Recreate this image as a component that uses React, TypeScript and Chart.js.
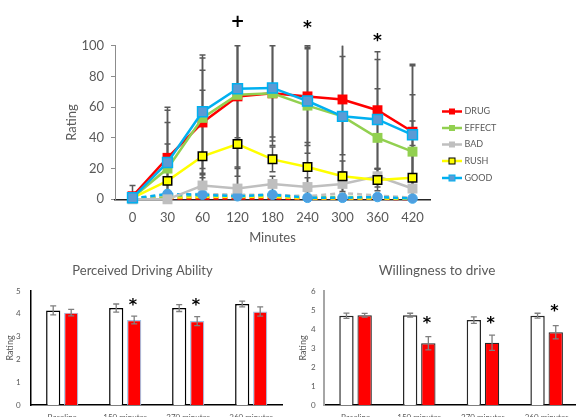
import React, { useEffect, useRef } from 'react';
import { Chart, registerables } from 'chart.js';
Chart.register(...registerables);
Chart.defaults.font.family = 'Lato';

// ---------- Top chart data ----------
const minutes = ['0', '30', '60', '120', '180', '240', '300', '360', '420'];
const drug = [2, 27, 50, 67, 69, 67, 65, 58, 44];
const effect = [1, 20, 53, 68, 69, 61, 54, 40, 31];
const bad = [0, 0, 9, 7, 10, 8, 10, 15, 7];
const rush = [1, 12, 28, 36, 26, 21, 15, 12.5, 14];
const good = [1, 24, 57, 72, 72.5, 64, 54, 52, 42];
const drugSd = [7, 33, 34, 47, 31, 32, 36, 38, 44];
const effectSd = [3, 30, 39, 53, 34, 39, 50, 32, 37];
const badSd = [2, 3, 8, 14, 5, 6, 8, 5, 28];
const rushSd = [3, 24, 43, 64, 8, 16, 10, 7, 37];
const goodSd = [3, 34, 37, 32, 32, 34, 39, 39, 45];
// placebo (dashed) series
const drugP = [0.3, 0.5, 0.5, 0.5, 0.5, 0.3, 0.3, 0.3, 0.2];
const effectP = [0.5, 2, 2.5, 2.5, 2.5, 1.5, 1.5, 1.5, 0.5];
const badP = [0.5, 3, 3.5, 3, 3, 2, 4, 2.5, 1];
const rushP = [0.5, 1, 1.5, 1.5, 1.5, 0.5, 0.5, 0.5, 0.3];
const goodP = [0.5, 3.5, 3, 2, 3, 1, 1, 1.5, 0.5];
const topMarks = [{ idx: 3, text: '+' }, { idx: 5, text: '*' }, { idx: 7, text: '*' }];

// ---------- Bottom charts data ----------
const timepoints = ['Baseline', '150 minutes', '270 minutes', '360 minutes'];
const abilityPlacebo = [4.15, 4.25, 4.25, 4.43];
const abilityPlaceboErr = [0.2, 0.18, 0.15, 0.13];
const abilityDrug = [4.05, 3.73, 3.68, 4.1];
const abilityDrugErr = [0.14, 0.17, 0.2, 0.2];
const abilityStars = [1, 2];
const willPlacebo = [4.7, 4.73, 4.47, 4.7];
const willPlaceboErr = [0.14, 0.1, 0.17, 0.13];
const willDrug = [4.72, 3.25, 3.28, 3.83];
const willDrugErr = [0.1, 0.35, 0.4, 0.35];
const willStars = [1, 2, 3];

const GREY_TEXT = '#595959';

function drawGlyphCentered(ctx: CanvasRenderingContext2D, text: string, cx: number, cy: number, font: string, color: string) {
  ctx.save();
  ctx.font = font;
  ctx.fillStyle = color;
  ctx.textAlign = 'left';
  ctx.textBaseline = 'alphabetic';
  const m = ctx.measureText(text);
  const w = m.actualBoundingBoxRight + m.actualBoundingBoxLeft;
  const x = cx - w / 2 + m.actualBoundingBoxLeft;
  const y = cy + (m.actualBoundingBoxAscent - m.actualBoundingBoxDescent) / 2;
  ctx.fillText(text, x, y);
  ctx.restore();
}

function drawText(ctx: CanvasRenderingContext2D, text: string, x: number, y: number, font: string, color: string, rotate = false) {
  ctx.save();
  ctx.font = font;
  ctx.fillStyle = color;
  ctx.textAlign = 'center';
  ctx.textBaseline = 'middle';
  ctx.translate(x, y);
  if (rotate) ctx.rotate(-Math.PI / 2);
  ctx.fillText(text, 0, 0);
  ctx.restore();
}

export default function App() {
  const topRef = useRef<HTMLCanvasElement>(null);
  const leftRef = useRef<HTMLCanvasElement>(null);
  const rightRef = useRef<HTMLCanvasElement>(null);

  useEffect(() => {
    const solid = [
      { label: 'DRUG', data: drug, sd: drugSd, line: '#FF0000', fill: '#FF0000', border: '#FF0000', bw: 0, order: 5 },
      { label: 'EFFECT', data: effect, sd: effectSd, line: '#92D050', fill: '#92D050', border: '#92D050', bw: 0, order: 4 },
      { label: 'BAD', data: bad, sd: badSd, line: '#BFBFBF', fill: '#BFBFBF', border: '#BFBFBF', bw: 0, order: 3 },
      { label: 'RUSH', data: rush, sd: rushSd, line: '#FFFF00', fill: '#FFFF00', border: '#000000', bw: 1.5, order: 2 },
      { label: 'GOOD', data: good, sd: goodSd, line: '#00B0F0', fill: '#5B9BD5', border: '#00B0F0', bw: 1.5, order: 1 },
    ];
    const dashed = [
      { data: drugP, color: '#FF0000', order: 10 },
      { data: rushP, color: '#FFFF00', order: 9 },
      { data: effectP, color: '#92D050', order: 8 },
      { data: badP, color: '#BFBFBF', order: 7 },
    ];
    const datasets: any[] = solid.map((s) => ({
      label: s.label,
      data: s.data,
      borderColor: s.line,
      backgroundColor: s.fill,
      borderWidth: 2.5,
      pointStyle: 'rect',
      pointRadius: s.label === 'RUSH' ? 6 : 7,
      pointBackgroundColor: s.fill,
      pointBorderColor: s.border,
      pointBorderWidth: s.bw,
      order: s.order,
      clip: false,
    }));
    dashed.forEach((d) =>
      datasets.push({
        data: d.data,
        borderColor: d.color,
        backgroundColor: d.color,
        borderWidth: 2.5,
        borderDash: [5, 4],
        pointRadius: 0,
        order: d.order,
        clip: false,
      })
    );
    datasets.push({
      data: goodP,
      borderColor: '#00B0F0',
      backgroundColor: '#4F9FE0',
      borderWidth: 2.5,
      borderDash: [5, 4],
      pointStyle: 'circle',
      pointRadius: 4.8,
      pointBackgroundColor: '#4F9FE0',
      pointBorderColor: '#3FA9EA',
      pointBorderWidth: 1,
      order: 6,
      clip: false,
    });

    const topOverlay = {
      id: 'topOverlay',
      beforeDatasetsDraw(chart: any) {
        const { ctx, scales } = chart;
        const y = scales.y;
        ctx.save();
        ctx.strokeStyle = '#595959';
        ctx.lineWidth = 1.5;
        solid.forEach((s, i) => {
          const meta = chart.getDatasetMeta(i);
          meta.data.forEach((pt: any, j: number) => {
            const hi = s.data[j] + s.sd[j];
            const lo = s.data[j] - s.sd[j];
            const yHi = y.getPixelForValue(Math.min(hi, 100));
            const yLo = y.getPixelForValue(Math.max(lo, 0));
            ctx.beginPath();
            ctx.moveTo(pt.x, yHi);
            ctx.lineTo(pt.x, yLo);
            if (hi <= 100) {
              ctx.moveTo(pt.x - 3, yHi);
              ctx.lineTo(pt.x + 3, yHi);
            }
            if (lo >= 0) {
              ctx.moveTo(pt.x - 3, yLo);
              ctx.lineTo(pt.x + 3, yLo);
            }
            ctx.stroke();
          });
        });
        ctx.restore();
      },
      afterDraw(chart: any) {
        const { ctx, chartArea, scales } = chart;
        const x = scales.x;
        // axis titles
        drawText(ctx, 'Rating', 71.5, (chartArea.top + chartArea.bottom) / 2, '13px Lato', GREY_TEXT, true);
        drawText(ctx, 'Minutes', (chartArea.left + chartArea.right) / 2, 237.5, '13px Lato', GREY_TEXT);
        // significance marks
        const ys = [20.5, 24.5, 37];
        topMarks.forEach((m, k) => {
          drawGlyphCentered(ctx, m.text, x.getPixelForValue(m.idx), ys[k], 'bold 17px "DejaVu Sans"', '#000');
        });
        // legend
        const ly = [111.5, 128, 144.5, 161, 178];
        solid.forEach((s, k) => {
          ctx.save();
          ctx.strokeStyle = s.line;
          ctx.lineWidth = 2.5;
          ctx.beginPath();
          ctx.moveTo(442, ly[k]);
          ctx.lineTo(462, ly[k]);
          ctx.stroke();
          ctx.fillStyle = s.fill;
          ctx.fillRect(449, ly[k] - 3, 6, 6);
          if (s.bw) {
            ctx.strokeStyle = s.border;
            ctx.lineWidth = 1;
            ctx.strokeRect(449, ly[k] - 3, 6, 6);
          }
          ctx.restore();
          ctx.save();
          ctx.font = '9px Lato';
          ctx.fillStyle = GREY_TEXT;
          ctx.textAlign = 'left';
          ctx.textBaseline = 'middle';
          ctx.fillText(s.label, 464.5, ly[k]);
          ctx.restore();
        });
      },
    };

    const top = new Chart(topRef.current!, {
      type: 'line',
      data: { labels: minutes, datasets },
      options: {
        animation: false,
        responsive: false,
        maintainAspectRatio: false,
        layout: { padding: { left: 0, top: 45.7, right: 146, bottom: 0 } },
        plugins: { legend: { display: false }, tooltip: { enabled: false } },
        scales: {
          x: {
            offset: true,
            grid: { display: false, drawTicks: false },
            border: { color: '#262626', width: 1.5 },
            ticks: { padding: 11, font: { size: 13 }, color: GREY_TEXT },
            afterFit: (s: any) => { s.height = 50.7; },
          },
          y: {
            min: 0,
            max: 100,
            ticks: { stepSize: 20, padding: 7, font: { size: 13 }, color: GREY_TEXT },
            grid: { display: true, drawOnChartArea: false, drawTicks: true, tickLength: 4, color: '#8C8C8C' },
            border: { color: '#8C8C8C', width: 1 },
            afterFit: (s: any) => { s.width = 115; },
          },
        },
      } as any,
      plugins: [topOverlay],
    });

    function makeBar(
      canvas: HTMLCanvasElement,
      cfg: {
        title: string; titleX: number; titleY: number; titleFont: string; max: number; placebo: number[]; placeboErr: number[];
        drugV: number[]; drugErr: number[]; stars: number[]; starY: number[]; padLeftAxis: number; padRight: number;
        yTickPad: number; ratingX: number; drugBorder: string; whiteBorder: string; yAxisColor: string; yAxisWidth: number;
      }
    ) {
      const overlay = {
        id: 'barOverlay',
        afterDatasetsDraw(chart: any) {
          const { ctx, scales } = chart;
          const y = scales.y;
          const sets = [
            { v: cfg.placebo, e: cfg.placeboErr },
            { v: cfg.drugV, e: cfg.drugErr },
          ];
          ctx.save();
          ctx.strokeStyle = '#7F7F7F';
          ctx.lineWidth = 1.3;
          sets.forEach((s, i) => {
            chart.getDatasetMeta(i).data.forEach((bar: any, j: number) => {
              const yh = y.getPixelForValue(s.v[j] + s.e[j]);
              const yl = y.getPixelForValue(s.v[j] - s.e[j]);
              ctx.beginPath();
              ctx.moveTo(bar.x, yh); ctx.lineTo(bar.x, yl);
              ctx.moveTo(bar.x - 3, yh); ctx.lineTo(bar.x + 3, yh);
              ctx.moveTo(bar.x - 3, yl); ctx.lineTo(bar.x + 3, yl);
              ctx.stroke();
            });
          });
          ctx.restore();
        },
        afterDraw(chart: any) {
          const { ctx, chartArea } = chart;
          drawText(ctx, cfg.title, cfg.titleX, cfg.titleY, cfg.titleFont, GREY_TEXT);
          drawText(ctx, 'Rating', cfg.ratingX, (chartArea.top + chartArea.bottom) / 2, '9px Lato', GREY_TEXT, true);
          const meta = chart.getDatasetMeta(1);
          cfg.stars.forEach((j, k) => {
            const bar: any = meta.data[j];
            drawGlyphCentered(ctx, '*', bar.x - 1, cfg.starY[k], 'bold 16px "DejaVu Sans"', '#000');
          });
        },
      };
      return new Chart(canvas, {
        type: 'bar',
        data: {
          labels: timepoints,
          datasets: [
            { data: cfg.placebo, backgroundColor: '#FFFFFF', borderColor: cfg.whiteBorder, borderWidth: 1.5, categoryPercentage: 0.571, barPercentage: 0.79 },
            { data: cfg.drugV, backgroundColor: '#FF0000', borderColor: cfg.drugBorder, borderWidth: 1.2, categoryPercentage: 0.571, barPercentage: 0.79 },
          ],
        },
        options: {
          animation: false,
          responsive: false,
          maintainAspectRatio: false,
          layout: { padding: { left: 0, top: 41, right: cfg.padRight, bottom: 0 } },
          plugins: { legend: { display: false }, tooltip: { enabled: false } },
          scales: {
            x: {
              grid: { display: false, drawTicks: false },
              border: { color: '#000', width: 1.5 },
              ticks: { padding: 8, font: { size: 8 }, color: GREY_TEXT, maxRotation: 0, autoSkip: false },
              afterFit: (s: any) => { s.height = 25; },
            },
            y: {
              min: 0,
              max: cfg.max,
              ticks: { stepSize: 1, padding: cfg.yTickPad, font: { size: 8 }, color: GREY_TEXT },
              grid: { display: false, drawTicks: false },
              border: { color: cfg.yAxisColor, width: cfg.yAxisWidth },
              afterFit: (s: any) => { s.width = cfg.padLeftAxis; },
            },
          },
        } as any,
        plugins: [overlay],
      });
    }

    const left = makeBar(leftRef.current!, {
      title: 'Perceived Driving Ability', titleX: 142.5, titleY: 20.7, titleFont: '13px Lato', max: 5,
      placebo: abilityPlacebo, placeboErr: abilityPlaceboErr, drugV: abilityDrug, drugErr: abilityDrugErr,
      stars: abilityStars, starY: [51.5, 51.5], padLeftAxis: 30.7, padRight: 7.3, yTickPad: 10, ratingX: 10,
      drugBorder: '#9DC3E6', whiteBorder: '#000000', yAxisColor: '#000000', yAxisWidth: 1.5,
    });
    const right = makeBar(rightRef.current!, {
      title: 'Willingness to drive', titleX: 147, titleY: 20.7, titleFont: '13.5px Lato', max: 6,
      placebo: willPlacebo, placeboErr: willPlaceboErr, drugV: willDrug, drugErr: willDrugErr,
      stars: willStars, starY: [70, 70, 58.3], padLeftAxis: 33.7, padRight: 21.5, yTickPad: 8, ratingX: 12.7,
      drugBorder: '#262626', whiteBorder: '#262626', yAxisColor: '#A6A6A6', yAxisWidth: 2,
    });

    return () => {
      top.destroy();
      left.destroy();
      right.destroy();
    };
  }, []);

  return (
    <div style={{ position: 'absolute', left: 0, top: 0, width: 576, height: 417, overflow: 'hidden', background: '#FFFFFF' }}>
      <canvas ref={topRef} width={576} height={250} style={{ position: 'absolute', left: 0, top: 0, width: 576, height: 250 }} />
      <canvas ref={leftRef} width={290} height={180} style={{ position: 'absolute', left: 0, top: 250, width: 290, height: 180 }} />
      <canvas ref={rightRef} width={310} height={180} style={{ position: 'absolute', left: 290, top: 250, width: 310, height: 180 }} />
    </div>
  );
}
